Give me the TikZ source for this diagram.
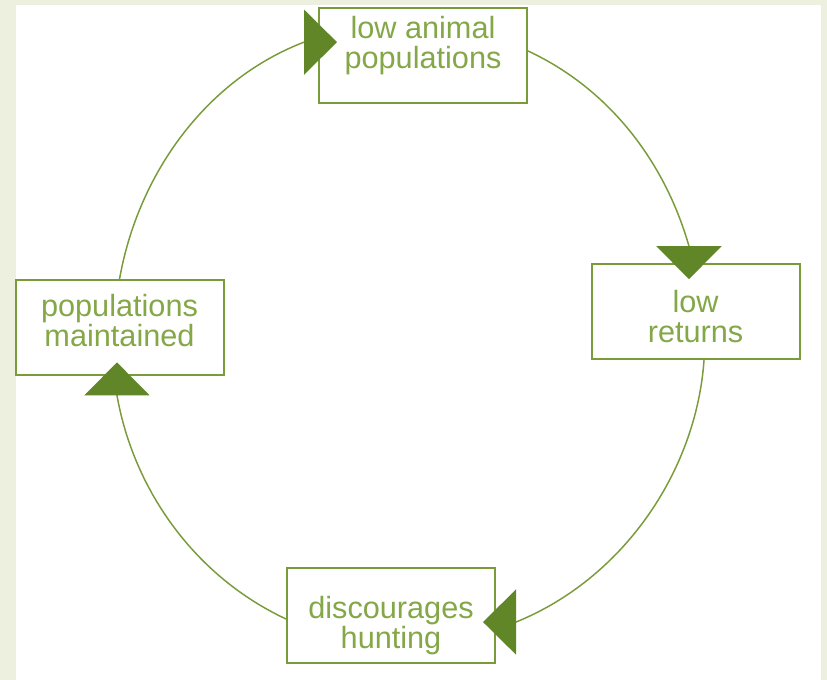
\documentclass[tikz,border=0pt]{standalone}
\usepackage{fontspec}
\setmainfont{Liberation Sans}
\usetikzlibrary{arrows.meta, positioning}

\definecolor{paper}{RGB}{237,240,222}
\definecolor{leafline}{RGB}{122,155,58}
\definecolor{leafhead}{RGB}{96,134,40}
\definecolor{leaftext}{RGB}{132,167,72}

\begin{document}
\begin{tikzpicture}[x=0.75pt, y=-0.75pt,
            stage/.style={draw=leafline, line width=1.5pt, minimum width=156pt,
                    minimum height=71pt, inner sep=0pt},
            stagetext/.style={text=leaftext, align=center,
                    font=\fontsize{23pt}{22.5pt}\selectfont},
            loopline/.style={draw=leafline, line width=1.1pt, looseness=0.9,
                    -{Triangle[length=24.75pt, width=48.75pt, color=leafhead]}},
        ]

        % page and frame
        \fill[paper] (0,0) rectangle (827,680);
        \fill[white] (16,5) rectangle (821,680);
        \useasboundingbox (0,0) rectangle (827,680);

        \node[stage, label={[stagetext, yshift=7.1pt]center:{low animal\\populations}}] (low) at (423,55.5) {};
        \node[stage, label={[stagetext, yshift=-4pt]center:{low\\returns}}] (ret) at (695.5,311.5) {};
        \node[stage, label={[stagetext, yshift=-7.9pt]center:{discourages\\hunting}}] (hunt) at (391,615.5) {};
        \node[stage, label={[stagetext, yshift=5pt]center:{populations\\maintained}}] (kept) at (119.5,327.5) {};

        % the cycle: arcs of one ring, tips set square to the boxes
        \draw[loopline] (kept.north) to[out=80, in=201] ([xshift=-10.5pt, yshift=10pt]low.west)
            -- ([xshift=14.25pt, yshift=10pt]low.west);
        \draw[loopline] ([yshift=3.4pt]low.east) to[out=-25, in=106] ([xshift=-4.9pt, yshift=12.75pt]ret.north)
            -- ([xshift=-4.9pt, yshift=-12pt]ret.north);
        \draw[loopline] ([xshift=6.4pt]ret.south) to[out=-94, in=22] ([xshift=15pt, yshift=-4.9pt]hunt.east)
            -- ([xshift=-9.75pt, yshift=-4.9pt]hunt.east);
        \draw[loopline] ([yshift=-2.6pt]hunt.west) to[out=155, in=-80] ([xshift=-1.9pt, yshift=-14.6pt]kept.south)
            -- ([xshift=-1.9pt, yshift=10.1pt]kept.south);

    \end{tikzpicture}
\end{document}
